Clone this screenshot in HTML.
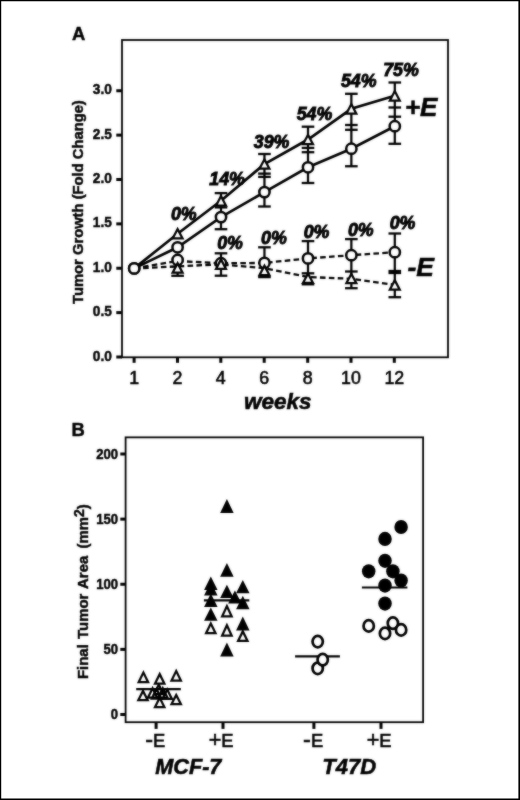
<!DOCTYPE html>
<html lang="en"><head><meta charset="utf-8"><title>Figure</title>
<style>
html,body{margin:0;padding:0;background:#fff;}
body{width:520px;height:800px;overflow:hidden;position:relative;}
svg{display:block;position:absolute;left:0;top:0;will-change:transform;}
text{font-family:"Liberation Sans", Arial, Helvetica, sans-serif;fill:#000;}
.b{font-weight:bold;stroke:#000;stroke-width:0.45px;}
.r{stroke:#000;stroke-width:0.6px;}
.bi{font-weight:bold;font-style:italic;stroke:#000;stroke-width:0.55px;}
.pc{stroke-width:0.9px;}
</style></head><body>
<svg width="520" height="800" viewBox="0 0 520 800">
<rect x="0" y="0" width="520" height="800" fill="#fff"/>
<path d="M0 0H520V800H0Z M1.2 1.2V798.4H518.4V1.2Z" fill="#000" fill-rule="evenodd"/>
<defs><filter id="soft" x="0" y="0" width="520" height="800" filterUnits="userSpaceOnUse" color-interpolation-filters="sRGB"><feGaussianBlur in="SourceGraphic" stdDeviation="0.8" result="b"/><feComposite in="SourceGraphic" in2="b" operator="arithmetic" k1="0" k2="0.55" k3="0.45" k4="0"/></filter></defs>
<g filter="url(#soft)">
<g id="panelA">
<text x="72" y="40.2" class="b" font-size="18.4">A</text>
<rect x="122.0" y="40.0" width="326.00" height="317.30" fill="none" stroke="#000" stroke-width="1.8"/>
<line x1="116.3" y1="357.00" x2="122.0" y2="357.00" stroke="#000" stroke-width="3"/>
<text transform="translate(111.9 360.50) scale(1 1.07)" text-anchor="end" class="b" font-size="13.7">0.0</text>
<line x1="116.3" y1="312.62" x2="122.0" y2="312.62" stroke="#000" stroke-width="3"/>
<text transform="translate(111.9 316.12) scale(1 1.07)" text-anchor="end" class="b" font-size="13.7">0.5</text>
<line x1="116.3" y1="268.25" x2="122.0" y2="268.25" stroke="#000" stroke-width="3"/>
<text transform="translate(111.9 271.75) scale(1 1.07)" text-anchor="end" class="b" font-size="13.7">1.0</text>
<line x1="116.3" y1="223.88" x2="122.0" y2="223.88" stroke="#000" stroke-width="3"/>
<text transform="translate(111.9 227.38) scale(1 1.07)" text-anchor="end" class="b" font-size="13.7">1.5</text>
<line x1="116.3" y1="179.50" x2="122.0" y2="179.50" stroke="#000" stroke-width="3"/>
<text transform="translate(111.9 183.00) scale(1 1.07)" text-anchor="end" class="b" font-size="13.7">2.0</text>
<line x1="116.3" y1="135.12" x2="122.0" y2="135.12" stroke="#000" stroke-width="3"/>
<text transform="translate(111.9 138.62) scale(1 1.07)" text-anchor="end" class="b" font-size="13.7">2.5</text>
<line x1="116.3" y1="90.75" x2="122.0" y2="90.75" stroke="#000" stroke-width="3"/>
<text transform="translate(111.9 94.25) scale(1 1.07)" text-anchor="end" class="b" font-size="13.7">3.0</text>
<line x1="134.10" y1="357.3" x2="134.10" y2="362.8" stroke="#000" stroke-width="3"/>
<text x="134.10" y="383.8" text-anchor="middle" class="r" font-size="17.8">1</text>
<line x1="177.50" y1="357.3" x2="177.50" y2="362.8" stroke="#000" stroke-width="3"/>
<text x="177.50" y="383.8" text-anchor="middle" class="r" font-size="17.8">2</text>
<line x1="220.80" y1="357.3" x2="220.80" y2="362.8" stroke="#000" stroke-width="3"/>
<text x="220.80" y="383.8" text-anchor="middle" class="r" font-size="17.8">4</text>
<line x1="264.20" y1="357.3" x2="264.20" y2="362.8" stroke="#000" stroke-width="3"/>
<text x="264.20" y="383.8" text-anchor="middle" class="r" font-size="17.8">6</text>
<line x1="307.70" y1="357.3" x2="307.70" y2="362.8" stroke="#000" stroke-width="3"/>
<text x="307.70" y="383.8" text-anchor="middle" class="r" font-size="17.8">8</text>
<line x1="351.00" y1="357.3" x2="351.00" y2="362.8" stroke="#000" stroke-width="3"/>
<text x="351.00" y="383.8" text-anchor="middle" class="r" font-size="17.8">10</text>
<line x1="394.30" y1="357.3" x2="394.30" y2="362.8" stroke="#000" stroke-width="3"/>
<text x="394.30" y="383.8" text-anchor="middle" class="r" font-size="17.8">12</text>
<text x="277.8" y="409.3" text-anchor="middle" class="bi" font-size="22.5">weeks</text>
<text transform="translate(82.7 202.1) rotate(-90)" text-anchor="middle" class="b" font-size="14.75">Tumor Growth (Fold Change)</text>
<polyline points="134.20,268.40 177.60,233.70 221.00,200.80 264.45,164.00 308.00,139.50 351.35,108.80 394.80,95.80" fill="none" stroke="#000" stroke-width="2.7"/>
<polyline points="134.20,268.40 177.60,247.30 221.00,217.10 264.45,192.10 308.00,167.30 351.35,148.70 394.80,126.20" fill="none" stroke="#000" stroke-width="2.7"/>
<polyline points="134.20,268.40 177.60,261.00 221.00,263.30 264.45,262.90 308.00,258.40 351.35,255.20 394.80,252.20" fill="none" stroke="#000" stroke-width="2.3" stroke-dasharray="5.6 3.3"/>
<polyline points="134.20,268.40 177.60,266.40 221.00,264.30 264.45,268.20 308.00,277.00 351.35,278.80 394.80,284.80" fill="none" stroke="#000" stroke-width="2.3" stroke-dasharray="5.6 3.3"/>
<line x1="177.60" y1="268.00" x2="177.60" y2="275.80" stroke="#000" stroke-width="2.25"/>
<line x1="171.30" y1="275.80" x2="183.90" y2="275.80" stroke="#000" stroke-width="2.3"/>
<line x1="221.00" y1="193.10" x2="221.00" y2="229.20" stroke="#000" stroke-width="2.25"/>
<line x1="214.70" y1="193.10" x2="227.30" y2="193.10" stroke="#000" stroke-width="2.3"/>
<line x1="214.70" y1="207.40" x2="227.30" y2="207.40" stroke="#000" stroke-width="2.3"/>
<line x1="214.70" y1="229.20" x2="227.30" y2="229.20" stroke="#000" stroke-width="2.3"/>
<line x1="221.00" y1="253.30" x2="221.00" y2="275.70" stroke="#000" stroke-width="2.25"/>
<line x1="214.70" y1="253.30" x2="227.30" y2="253.30" stroke="#000" stroke-width="2.3"/>
<line x1="214.70" y1="275.70" x2="227.30" y2="275.70" stroke="#000" stroke-width="2.3"/>
<line x1="264.45" y1="154.00" x2="264.45" y2="206.50" stroke="#000" stroke-width="2.25"/>
<line x1="258.15" y1="154.00" x2="270.75" y2="154.00" stroke="#000" stroke-width="2.3"/>
<line x1="258.15" y1="173.60" x2="270.75" y2="173.60" stroke="#000" stroke-width="2.3"/>
<line x1="258.15" y1="176.90" x2="270.75" y2="176.90" stroke="#000" stroke-width="2.3"/>
<line x1="258.15" y1="206.50" x2="270.75" y2="206.50" stroke="#000" stroke-width="2.3"/>
<line x1="264.45" y1="247.30" x2="264.45" y2="277.30" stroke="#000" stroke-width="2.25"/>
<line x1="258.15" y1="247.30" x2="270.75" y2="247.30" stroke="#000" stroke-width="2.3"/>
<line x1="258.15" y1="277.10" x2="270.75" y2="277.10" stroke="#000" stroke-width="2.3"/>
<line x1="308.00" y1="126.70" x2="308.00" y2="183.00" stroke="#000" stroke-width="2.25"/>
<line x1="301.70" y1="126.70" x2="314.30" y2="126.70" stroke="#000" stroke-width="2.3"/>
<line x1="301.70" y1="147.90" x2="314.30" y2="147.90" stroke="#000" stroke-width="2.3"/>
<line x1="301.70" y1="152.20" x2="314.30" y2="152.20" stroke="#000" stroke-width="2.3"/>
<line x1="301.70" y1="183.00" x2="314.30" y2="183.00" stroke="#000" stroke-width="2.3"/>
<line x1="308.00" y1="241.10" x2="308.00" y2="284.30" stroke="#000" stroke-width="2.25"/>
<line x1="301.70" y1="241.10" x2="314.30" y2="241.10" stroke="#000" stroke-width="2.3"/>
<line x1="301.70" y1="273.30" x2="314.30" y2="273.30" stroke="#000" stroke-width="2.3"/>
<line x1="301.70" y1="284.30" x2="314.30" y2="284.30" stroke="#000" stroke-width="2.3"/>
<line x1="351.35" y1="93.80" x2="351.35" y2="166.25" stroke="#000" stroke-width="2.25"/>
<line x1="345.05" y1="93.80" x2="357.65" y2="93.80" stroke="#000" stroke-width="2.3"/>
<line x1="345.05" y1="125.00" x2="357.65" y2="125.00" stroke="#000" stroke-width="2.3"/>
<line x1="345.05" y1="129.80" x2="357.65" y2="129.80" stroke="#000" stroke-width="2.3"/>
<line x1="345.05" y1="166.25" x2="357.65" y2="166.25" stroke="#000" stroke-width="2.3"/>
<line x1="351.35" y1="239.10" x2="351.35" y2="288.20" stroke="#000" stroke-width="2.25"/>
<line x1="345.05" y1="239.10" x2="357.65" y2="239.10" stroke="#000" stroke-width="2.3"/>
<line x1="345.05" y1="271.50" x2="357.65" y2="271.50" stroke="#000" stroke-width="2.3"/>
<line x1="345.05" y1="288.20" x2="357.65" y2="288.20" stroke="#000" stroke-width="2.3"/>
<line x1="394.80" y1="82.50" x2="394.80" y2="143.80" stroke="#000" stroke-width="2.25"/>
<line x1="388.50" y1="82.50" x2="401.10" y2="82.50" stroke="#000" stroke-width="2.3"/>
<line x1="388.50" y1="107.50" x2="401.10" y2="107.50" stroke="#000" stroke-width="2.3"/>
<line x1="388.50" y1="116.70" x2="401.10" y2="116.70" stroke="#000" stroke-width="2.3"/>
<line x1="388.50" y1="143.80" x2="401.10" y2="143.80" stroke="#000" stroke-width="2.3"/>
<line x1="394.80" y1="233.50" x2="394.80" y2="297.20" stroke="#000" stroke-width="2.25"/>
<line x1="388.50" y1="233.50" x2="401.10" y2="233.50" stroke="#000" stroke-width="2.3"/>
<line x1="388.50" y1="271.00" x2="401.10" y2="271.00" stroke="#000" stroke-width="2.3"/>
<line x1="388.50" y1="273.00" x2="401.10" y2="273.00" stroke="#000" stroke-width="2.3"/>
<line x1="388.50" y1="297.20" x2="401.10" y2="297.20" stroke="#000" stroke-width="2.3"/>
<circle cx="134.20" cy="268.40" r="5.15" fill="#fff" stroke="#000" stroke-width="2.5"/>
<circle cx="134.20" cy="268.40" r="5.15" fill="#fff" stroke="#000" stroke-width="2.5"/>
<circle cx="177.60" cy="260.00" r="5.15" fill="#fff" stroke="#000" stroke-width="2.5"/>
<path d="M177.60 260.85 L184.40 273.75 L170.80 273.75 Z" fill="#000"/><path d="M177.60 265.68 L180.67 271.50 L174.53 271.50 Z" fill="#fff"/>
<circle cx="177.60" cy="247.30" r="5.15" fill="#fff" stroke="#000" stroke-width="2.5"/>
<path d="M177.60 226.65 L184.40 239.55 L170.80 239.55 Z" fill="#000"/><path d="M177.60 231.48 L180.67 237.30 L174.53 237.30 Z" fill="#fff"/>
<circle cx="221.00" cy="263.20" r="5.15" fill="#fff" stroke="#000" stroke-width="2.5"/>
<path d="M221.00 257.05 L227.80 269.95 L214.20 269.95 Z" fill="#000"/><path d="M221.00 261.88 L224.07 267.70 L217.93 267.70 Z" fill="#fff"/>
<circle cx="221.00" cy="217.10" r="5.15" fill="#fff" stroke="#000" stroke-width="2.5"/>
<path d="M221.00 193.75 L227.80 206.65 L214.20 206.65 Z" fill="#000"/><path d="M221.00 198.58 L224.07 204.40 L217.93 204.40 Z" fill="#fff"/>
<circle cx="264.45" cy="262.90" r="5.15" fill="#fff" stroke="#000" stroke-width="2.5"/>
<path d="M264.45 263.35 L271.25 276.25 L257.65 276.25 Z" fill="#000"/><path d="M264.45 268.18 L267.52 274.00 L261.38 274.00 Z" fill="#fff"/>
<circle cx="264.45" cy="192.10" r="5.15" fill="#fff" stroke="#000" stroke-width="2.5"/>
<path d="M264.45 156.95 L271.25 169.85 L257.65 169.85 Z" fill="#000"/><path d="M264.45 161.78 L267.52 167.60 L261.38 167.60 Z" fill="#fff"/>
<circle cx="308.00" cy="258.40" r="5.15" fill="#fff" stroke="#000" stroke-width="2.5"/>
<path d="M308.00 271.15 L314.80 284.05 L301.20 284.05 Z" fill="#000"/><path d="M308.00 275.98 L311.07 281.80 L304.93 281.80 Z" fill="#fff"/>
<circle cx="308.00" cy="167.30" r="5.15" fill="#fff" stroke="#000" stroke-width="2.5"/>
<path d="M308.00 132.45 L314.80 145.35 L301.20 145.35 Z" fill="#000"/><path d="M308.00 137.28 L311.07 143.10 L304.93 143.10 Z" fill="#fff"/>
<circle cx="351.35" cy="255.20" r="5.15" fill="#fff" stroke="#000" stroke-width="2.5"/>
<path d="M351.35 271.45 L358.15 284.35 L344.55 284.35 Z" fill="#000"/><path d="M351.35 276.28 L354.42 282.10 L348.28 282.10 Z" fill="#fff"/>
<circle cx="351.35" cy="148.70" r="5.15" fill="#fff" stroke="#000" stroke-width="2.5"/>
<path d="M351.35 101.75 L358.15 114.65 L344.55 114.65 Z" fill="#000"/><path d="M351.35 106.58 L354.42 112.40 L348.28 112.40 Z" fill="#fff"/>
<circle cx="394.80" cy="252.20" r="5.15" fill="#fff" stroke="#000" stroke-width="2.5"/>
<path d="M394.80 277.85 L401.60 290.75 L388.00 290.75 Z" fill="#000"/><path d="M394.80 282.68 L397.87 288.50 L391.73 288.50 Z" fill="#fff"/>
<circle cx="394.80" cy="126.20" r="5.15" fill="#fff" stroke="#000" stroke-width="2.5"/>
<path d="M394.80 88.75 L401.60 101.65 L388.00 101.65 Z" fill="#000"/><path d="M394.80 93.58 L397.87 99.40 L391.73 99.40 Z" fill="#fff"/>
<text x="183.75" y="220.0" text-anchor="middle" class="bi pc" font-size="17.8">0%</text>
<text x="227.1" y="184.6" text-anchor="middle" class="bi pc" font-size="17.8">14%</text>
<text x="271.6" y="147.8" text-anchor="middle" class="bi pc" font-size="17.8">39%</text>
<text x="314.5" y="119.7" text-anchor="middle" class="bi pc" font-size="17.8">54%</text>
<text x="358.75" y="87.0" text-anchor="middle" class="bi pc" font-size="17.8">54%</text>
<text x="401.0" y="75.8" text-anchor="middle" class="bi pc" font-size="17.8">75%</text>
<text x="230.0" y="249.2" text-anchor="middle" class="bi pc" font-size="17.8">0%</text>
<text x="273.9" y="243.6" text-anchor="middle" class="bi pc" font-size="17.8">0%</text>
<text x="316.6" y="237.6" text-anchor="middle" class="bi pc" font-size="17.8">0%</text>
<text x="360.8" y="236.2" text-anchor="middle" class="bi pc" font-size="17.8">0%</text>
<text x="402.5" y="229.2" text-anchor="middle" class="bi pc" font-size="17.8">0%</text>
<text x="404.9" y="116.0" class="bi" font-size="26">+E</text>
<text x="407.4" y="276.0" class="bi" font-size="26.5">-E</text>
</g>
<g id="panelB">
<text x="71.6" y="435.8" class="b" font-size="18.4">B</text>
<rect x="125.6" y="437.35" width="297.50" height="284.85" fill="none" stroke="#000" stroke-width="1.8"/>
<line x1="120.3" y1="714.50" x2="125.6" y2="714.50" stroke="#000" stroke-width="3"/>
<text transform="translate(118.0 719.30) scale(1 1.07)" text-anchor="end" class="b" font-size="13.1">0</text>
<line x1="120.3" y1="649.38" x2="125.6" y2="649.38" stroke="#000" stroke-width="3"/>
<text transform="translate(118.0 654.17) scale(1 1.07)" text-anchor="end" class="b" font-size="13.1">50</text>
<line x1="120.3" y1="584.25" x2="125.6" y2="584.25" stroke="#000" stroke-width="3"/>
<text transform="translate(118.0 589.05) scale(1 1.07)" text-anchor="end" class="b" font-size="13.1">100</text>
<line x1="120.3" y1="519.12" x2="125.6" y2="519.12" stroke="#000" stroke-width="3"/>
<text transform="translate(118.0 523.92) scale(1 1.07)" text-anchor="end" class="b" font-size="13.1">150</text>
<line x1="120.3" y1="454.00" x2="125.6" y2="454.00" stroke="#000" stroke-width="3"/>
<text transform="translate(118.0 458.80) scale(1 1.07)" text-anchor="end" class="b" font-size="13.1">200</text>
<line x1="156.1" y1="722.2" x2="156.1" y2="728.9" stroke="#000" stroke-width="3"/>
<text x="165.40" y="747.4" text-anchor="end" class="r" font-size="18.4"><tspan font-size="23.5">-</tspan>E</text>
<line x1="223.0" y1="722.2" x2="223.0" y2="728.9" stroke="#000" stroke-width="3"/>
<text x="233.60" y="747.4" text-anchor="end" class="r" font-size="18.4"><tspan font-size="21.5">+</tspan>E</text>
<line x1="313.9" y1="722.2" x2="313.9" y2="728.9" stroke="#000" stroke-width="3"/>
<text x="323.20" y="747.4" text-anchor="end" class="r" font-size="18.4"><tspan font-size="23.5">-</tspan>E</text>
<line x1="381.0" y1="722.2" x2="381.0" y2="728.9" stroke="#000" stroke-width="3"/>
<text x="391.60" y="747.4" text-anchor="end" class="r" font-size="18.4"><tspan font-size="21.5">+</tspan>E</text>
<text x="188.3" y="773.7" text-anchor="middle" class="bi" font-size="21.7">MCF-7</text>
<text x="349.2" y="773.7" text-anchor="middle" class="bi" font-size="22">T47D</text>
<text transform="translate(88.0 591.6) rotate(-90)" text-anchor="middle" class="b" font-size="14.9" style="word-spacing:1.2px">Final Tumor Area <tspan dx="2.0">(mm</tspan><tspan dy="-4.4" font-size="14">2</tspan><tspan dy="4.4">)</tspan></text>
<line x1="136.2" y1="689.2" x2="180.8" y2="689.2" stroke="#000" stroke-width="2.2"/>
<path fill-rule="evenodd" d="M152.60 685.65 L159.10 698.75 L146.10 698.75 Z M152.60 690.71 L155.47 696.50 L149.73 696.50 Z" fill="#000"/>
<path fill-rule="evenodd" d="M156.60 686.55 L163.10 699.65 L150.10 699.65 Z M156.60 691.61 L159.47 697.40 L153.73 697.40 Z" fill="#000"/>
<path fill-rule="evenodd" d="M158.80 682.15 L165.30 695.25 L152.30 695.25 Z M158.80 687.21 L161.67 693.00 L155.93 693.00 Z" fill="#000"/>
<path fill-rule="evenodd" d="M162.80 685.85 L169.30 698.95 L156.30 698.95 Z M162.80 690.91 L165.67 696.70 L159.93 696.70 Z" fill="#000"/>
<path fill-rule="evenodd" d="M167.20 686.95 L173.70 700.05 L160.70 700.05 Z M167.20 692.01 L170.07 697.80 L164.33 697.80 Z" fill="#000"/>
<path d="M143.40 670.05 L149.90 683.15 L136.90 683.15 Z" fill="#000"/><path d="M143.40 675.11 L146.27 680.90 L140.53 680.90 Z" fill="#fff"/>
<path d="M159.70 671.55 L166.20 684.75 L153.20 684.75 Z" fill="#000"/><path d="M159.70 676.64 L162.58 682.50 L156.82 682.50 Z" fill="#fff"/>
<path d="M176.20 668.45 L182.70 681.75 L169.70 681.75 Z" fill="#000"/><path d="M176.20 673.57 L179.10 679.50 L173.30 679.50 Z" fill="#fff"/>
<path d="M143.00 688.45 L149.50 701.35 L136.50 701.35 Z" fill="#000"/><path d="M143.00 693.45 L145.85 699.10 L140.15 699.10 Z" fill="#fff"/>
<path d="M159.70 695.25 L166.20 708.25 L153.20 708.25 Z" fill="#000"/><path d="M159.70 700.28 L162.56 706.00 L156.84 706.00 Z" fill="#fff"/>
<path d="M176.20 692.45 L182.70 705.35 L169.70 705.35 Z" fill="#000"/><path d="M176.20 697.45 L179.05 703.10 L173.35 703.10 Z" fill="#fff"/>
<path d="M226.90 499.00 L233.65 512.90 L220.15 512.90 Z" fill="#000"/>
<path d="M226.90 563.00 L233.65 576.70 L220.15 576.70 Z" fill="#000"/>
<path d="M210.80 576.50 L217.55 590.00 L204.05 590.00 Z" fill="#000"/>
<path d="M210.80 582.10 L217.55 595.60 L204.05 595.60 Z" fill="#000"/>
<path d="M210.80 593.50 L217.55 607.00 L204.05 607.00 Z" fill="#000"/>
<path d="M210.80 607.50 L217.55 620.80 L204.05 620.80 Z" fill="#000"/>
<path d="M226.90 584.70 L233.65 598.00 L220.15 598.00 Z" fill="#000"/>
<path d="M242.80 579.90 L249.55 593.20 L236.05 593.20 Z" fill="#000"/>
<path d="M234.90 590.50 L241.65 603.50 L228.15 603.50 Z" fill="#000"/>
<path d="M242.80 595.70 L249.55 609.30 L236.05 609.30 Z" fill="#000"/>
<path d="M242.80 616.40 L249.55 630.40 L236.05 630.40 Z" fill="#000"/>
<path d="M226.90 642.50 L233.65 656.40 L220.15 656.40 Z" fill="#000"/>
<line x1="203.9" y1="600.4" x2="249.3" y2="600.4" stroke="#000" stroke-width="2.2"/>
<path d="M226.90 603.45 L233.40 617.45 L220.40 617.45 Z" fill="#000"/><path d="M226.90 608.79 L229.87 615.20 L223.93 615.20 Z" fill="#fff"/>
<path d="M210.80 620.95 L217.30 634.15 L204.30 634.15 Z" fill="#000"/><path d="M210.80 626.04 L213.68 631.90 L207.92 631.90 Z" fill="#fff"/>
<path d="M226.90 622.55 L233.40 636.65 L220.40 636.65 Z" fill="#000"/><path d="M226.90 627.92 L229.89 634.40 L223.91 634.40 Z" fill="#fff"/>
<path d="M242.80 628.85 L249.30 641.95 L236.30 641.95 Z" fill="#000"/><path d="M242.80 633.91 L245.67 639.70 L239.93 639.70 Z" fill="#fff"/>
<line x1="295.1" y1="656.4" x2="339.9" y2="656.4" stroke="#000" stroke-width="2.2"/>
<ellipse cx="317.7" cy="641.6" rx="5.15" ry="5.75" fill="#fff" stroke="#000" stroke-width="2.7"/>
<ellipse cx="317.7" cy="668.3" rx="5.15" ry="5.75" fill="#fff" stroke="#000" stroke-width="2.7"/>
<ellipse cx="322.7" cy="659.7" rx="5.15" ry="5.75" fill="#fff" stroke="#000" stroke-width="2.7"/>
<ellipse cx="401.1" cy="527.0" rx="6.75" ry="7.1" fill="#000"/>
<ellipse cx="385.0" cy="538.9" rx="6.75" ry="7.1" fill="#000"/>
<ellipse cx="385.0" cy="560.8" rx="6.75" ry="7.1" fill="#000"/>
<ellipse cx="368.7" cy="571.3" rx="6.75" ry="7.1" fill="#000"/>
<ellipse cx="392.9" cy="571.3" rx="6.75" ry="7.1" fill="#000"/>
<ellipse cx="401.1" cy="580.5" rx="6.75" ry="7.1" fill="#000"/>
<ellipse cx="385.0" cy="585.6" rx="6.75" ry="7.1" fill="#000"/>
<ellipse cx="385.0" cy="603.6" rx="6.75" ry="7.1" fill="#000"/>
<line x1="361.9" y1="587.5" x2="407.4" y2="587.5" stroke="#000" stroke-width="2.2"/>
<ellipse cx="368.7" cy="625.9" rx="5.15" ry="5.75" fill="#fff" stroke="#000" stroke-width="2.7"/>
<ellipse cx="392.9" cy="623.2" rx="5.15" ry="5.75" fill="#fff" stroke="#000" stroke-width="2.7"/>
<ellipse cx="385.0" cy="633.4" rx="5.15" ry="5.75" fill="#fff" stroke="#000" stroke-width="2.7"/>
<ellipse cx="401.1" cy="629.9" rx="5.15" ry="5.75" fill="#fff" stroke="#000" stroke-width="2.7"/>
</g>
</g>
</svg></body></html>
